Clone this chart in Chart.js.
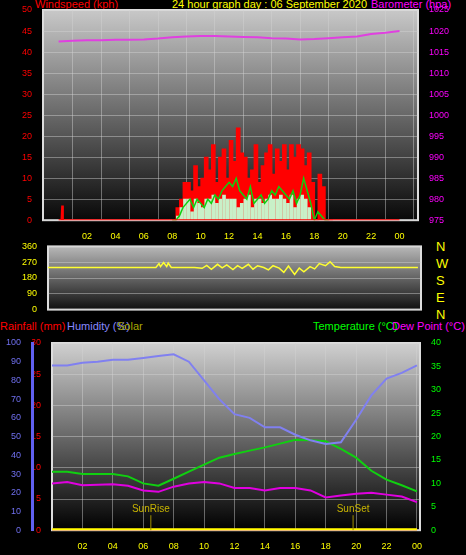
<!DOCTYPE html>
<html><head><meta charset="utf-8">
<script src="https://cdn.jsdelivr.net/npm/chart.js@4"></script>
<style>
body{margin:0;background:#000;width:466px;height:555px;overflow:hidden;position:relative;font-family:"Liberation Sans",Arial,sans-serif}
canvas{position:absolute;left:0}
.t{position:absolute;font-size:11px;white-space:nowrap;line-height:11px}
</style></head><body>
<div class="t" style="left:35px;top:-1px;color:#f00">Windspeed (kph)</div>
<div class="t" style="left:172px;top:-1px;color:#ff0">24 hour graph day : 06 September 2020</div>
<div class="t" style="left:371px;top:-1px;color:#f0f">Barometer (hpa)</div>
<div class="t" style="left:0;top:321px;color:#f00">Rainfall (mm)</div>
<div class="t" style="left:67px;top:321px;color:#88f">Humidity (%)</div>
<div class="t" style="left:117px;top:321px;color:#aa0">Solar</div>
<div class="t" style="left:313px;top:321px;color:#0f0">Temperature (°C)</div>
<div class="t" style="left:392px;top:321px;color:#f0f">Dew Point (°C)</div>
<div class="t" style="left:436px;top:241px;color:#ff0;font-size:13px">N</div>
<div class="t" style="left:436px;top:258px;color:#ff0;font-size:13px">W</div>
<div class="t" style="left:436px;top:275px;color:#ff0;font-size:13px">S</div>
<div class="t" style="left:436px;top:292px;color:#ff0;font-size:13px">E</div>
<div class="t" style="left:436px;top:309px;color:#ff0;font-size:13px">N</div>
<canvas id="c1" width="466" height="245" style="top:0"></canvas>
<canvas id="c2" width="466" height="80" style="top:238px"></canvas>
<canvas id="c3" width="466" height="222" style="top:333px"></canvas>
<script>
// ---- data ----
const hours = [0,1,2,3,4,5,6,7,8,9,10,11,12,13,14,15,16,17,18,19,20,21,22,23,24];
const windHours = [8,8.25,8.5,8.75,9,9.25,9.5,9.75,10,10.25,10.5,10.75,11,11.25,11.5,11.75,12,12.25,12.5,12.75,13,13.25,13.5,13.75,14,14.25,14.5,14.75,15,15.25,15.5,15.75,16,16.25,16.5,16.75,17,17.25,17.5,17.75,18,18.25,18.5,18.75,19];
const windGust = [0,3,5,9,9,7,13,8,10,15,12,18,9,15,17,10,19,14,22,16,15,10,12,18,9,13,16,18,11,17,14,18,12,18,15,18,17,13,16,9,0,11,8,0,0];
const windAvg = [0,0,1,3,4,5,3,5,4,3,5,4,6,5,7,8,9,8,10,7,6,5,8,4,5,6,4,5,7,6,8,7,6,5,7,4,6,10,7,4,0,2,1,0,0];
const windBars = [0,0,1,3,5,5,2,5,4,3,5,5,6,4,5,6,5,5,5,3,4,5,6,3,5,5,4,5,6,5,5,6,5,4,6,3,5,6,5,3,0,0,0,0,0];
const earlyGustHours = [0,0.2,0.25,0.3,24];
const earlyGust = [0,0,3.5,0,0];
const barometer = [1017.5,1017.7,1017.8,1017.8,1017.9,1017.9,1018.0,1018.2,1018.5,1018.7,1018.8,1018.8,1018.7,1018.6,1018.5,1018.3,1018.2,1018.0,1018.1,1018.3,1018.5,1018.7,1019.3,1019.6,1020.0];
const dirHours = [0,7,7.2,7.3,7.5,7.7,7.8,8,9.5,10,10.3,10.6,11,11.3,11.6,12,12.3,12.6,13,13.3,13.6,14,14.3,14.6,15,15.3,15.6,16,16.3,16.6,17,17.3,17.6,18,18.3,18.6,19,24];
const windDir = [240,240,262,245,268,245,265,240,240,235,252,230,258,238,255,228,250,235,258,230,250,240,226,250,236,212,248,200,236,215,245,232,262,250,272,245,240,240];
const humidity = [88,88,89.5,90,91,91,92,93,94,90,80,70,62,60,55,55,51,48,46,47,59,72,81,84,88];
const temperature = [12.5,12.5,12,12,12,11.5,10,9.5,11,12.5,14,15.5,16.3,17,17.7,18.5,19.3,19.2,19,17.4,15.5,12.7,10.8,9.6,8.3];
const dewPoint = [10,10.3,9.6,9.7,9.8,9.5,8.5,8.2,9.3,10,10.3,10,9,9,8.5,9,9,8.5,7,7.4,7.8,8,7.6,7.2,6];
const rainfall = [0,0,0,0,0,0,0,0,0,0,0,0,0,0,0,0,0,0,0,0,0,0,0,0,0];
const solar = [0,0,0,0,0,0,0,0,0,0,0,0,0,0,0,0,0,0,0,0,0,0,0,0,0];
const sunEvents = [{h:6.5,label:'SunRise'},{h:19.8,label:'SunSet'}];
const xTickLabels = ['02','04','06','08','10','12','14','16','18','20','22','00'];

const pts=(xs,ys)=>xs.map((x,i)=>({x,y:ys[i]}));
const grid={color:'rgba(210,210,210,0.45)',lineWidth:1,tickColor:'transparent'};
function bg(top,bottom){return{id:'bg',beforeDraw(c){const a=c.chartArea,ctx=c.ctx;const g=ctx.createLinearGradient(0,a.top,0,a.bottom);g.addColorStop(0,top);g.addColorStop(1,bottom);ctx.save();ctx.fillStyle=g;ctx.fillRect(a.left,a.top,a.right-a.left,a.bottom-a.top);ctx.strokeStyle='#ddd';ctx.lineWidth=2;ctx.strokeRect(a.left,a.top,a.right-a.left,a.bottom-a.top);ctx.restore();}};}
const fit=w=>function(s){s.width=w;};
const font={size:9,family:'"Liberation Sans",Arial'};
const plain=v=>String(v);
const xAxis=(show)=>({type:'linear',min:0,max:24.2,afterBuildTicks(s){s.ticks=[2,4,6,8,10,12,14,16,18,20,22,24].map(v=>({value:v}));},
  ticks:{display:show,color:'#ff0',font,callback:(v)=>xTickLabels[[2,4,6,8,10,12,14,16,18,20,22,24].indexOf(v)]},grid:{...grid},border:{display:false}});
const common={responsive:false,animation:false,plugins:{legend:{display:false},tooltip:{enabled:false}},elements:{point:{radius:0}}};

new Chart(document.getElementById('c1'),{
  data:{datasets:[
    {type:'line',data:pts(hours,barometer),yAxisID:'yb',borderColor:'#e040e0',borderWidth:2},
    {type:'line',data:pts(earlyGustHours,earlyGust),yAxisID:'y',borderColor:'#f00',borderWidth:2},
    {type:'bar',data:pts(windHours,windBars),yAxisID:'y',backgroundColor:'#c8f0c8',barThickness:3,order:1},
    {type:'line',data:pts(windHours,windAvg),yAxisID:'y',borderColor:'#10d010',borderWidth:1.5,order:0},
    {type:'bar',data:pts(windHours,windGust),yAxisID:'y',backgroundColor:'#f00',barThickness:4,order:2}
  ]},
  options:{...common,layout:{padding:{top:10}},scales:{
    x:xAxis(true),
    y:{position:'left',min:0,max:50,afterFit:fit(43),ticks:{stepSize:5,color:'#f00',font,callback:plain},grid:{...grid},border:{display:false}},
    yb:{position:'right',min:975,max:1025,afterFit:fit(48),ticks:{stepSize:5,color:'#f0f',font,callback:plain},grid:{display:false},border:{display:false}}
  }},plugins:[bg('#c8c8c8','#080808')]
});

new Chart(document.getElementById('c2'),{
  data:{datasets:[{type:'line',data:pts(dirHours,windDir),borderColor:'#ffff30',borderWidth:1.5}]},
  options:{...common,layout:{padding:{top:7,bottom:4}},scales:{
    x:{...xAxis(false),display:false},
    y:{position:'left',min:0,max:360,afterFit:fit(48),ticks:{stepSize:90,color:'#ff0',font},grid:{...grid},border:{display:false}},
    yr:{position:'right',min:0,max:360,afterFit:fit(45),ticks:{display:false},grid:{display:false},border:{display:false}}
  }},plugins:[bg('#b8b8b8','#101010')]
});

const sunPlugin={id:'sun',afterDatasetsDraw(c){const ctx=c.ctx,x=c.scales.x,y=c.scales.yt;ctx.save();ctx.strokeStyle='#a09000';ctx.fillStyle='#c8b400';ctx.font='10px "Liberation Sans",Arial';ctx.textAlign='center';
  sunEvents.forEach(e=>{const px=x.getPixelForValue(e.h);ctx.beginPath();ctx.moveTo(px,c.chartArea.bottom);ctx.lineTo(px,y.getPixelForValue(3.2));ctx.stroke();ctx.fillText(e.label,px,y.getPixelForValue(3.9));});ctx.restore();}};
new Chart(document.getElementById('c3'),{
  data:{datasets:[
    {type:'line',data:pts(hours,humidity),yAxisID:'yh',borderColor:'#8080f0',borderWidth:2},
    {type:'line',data:pts(hours,temperature),yAxisID:'yt',borderColor:'#10d010',borderWidth:2},
    {type:'line',data:pts(hours,dewPoint),yAxisID:'yt',borderColor:'#e000e0',borderWidth:2},
    {type:'line',data:pts(hours,solar),yAxisID:'yt',borderColor:'#ffff00',borderWidth:4},
    {type:'line',data:pts(hours,rainfall),yAxisID:'yr',borderColor:'#ff0000',borderWidth:3}
  ]},
  options:{...common,layout:{padding:{top:10}},scales:{
    x:xAxis(true),
    yr:{position:'left',min:0,max:30,afterFit:fit(20),ticks:{stepSize:5,color:'#f00',font},grid:{...grid},border:{display:false}},
    yh:{position:'left',min:0,max:100,afterFit:fit(32),ticks:{stepSize:10,color:'#7070f0',font},grid:{display:false},border:{display:true,color:'#6060f0',width:3}},
    yt:{position:'right',min:0,max:40,afterFit:fit(46),ticks:{stepSize:5,color:'#0f0',font},grid:{display:false},border:{display:false}}
  }},plugins:[bg('#d0d0d0','#000000'),sunPlugin]
});
</script></body></html>
